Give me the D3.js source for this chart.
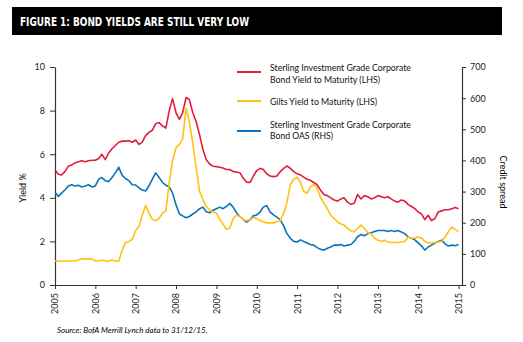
<!DOCTYPE html>
<html>
<head>
<meta charset="utf-8">
<script src="https://cdn.jsdelivr.net/npm/d3@7"></script>
<style>
  body { margin: 0; background: #fff; }
  svg { display: block; }
  .axis path, .axis line { stroke: #333; }
  .axis text { font-family: Lato, "Open Sans", sans-serif; font-size: 9px; fill: #222; }
</style>
</head>
<body>
<div id="chart"></div>
<script>
// monthly, Jan 2005 .. Jan 2015
const corpYield = [
  5.28, 5.08, 5.05, 5.2, 5.45, 5.5, 5.6, 5.65, 5.7, 5.65, 5.7, 5.72,
  5.72, 5.8, 6.0, 5.75, 6.05, 6.25, 6.4, 6.55, 6.6, 6.6, 6.62, 6.55,
  6.65, 6.45, 6.55, 6.85, 7.0, 7.1, 7.4, 7.45, 7.3, 7.2, 8.0, 8.55,
  7.9, 7.6, 7.9, 8.6, 8.5, 7.9, 7.5, 6.9, 6.2, 5.75, 5.55, 5.45,
  5.43, 5.4, 5.37, 5.3, 5.3, 5.2, 5.18, 5.15, 4.9, 4.72, 4.7, 5.0,
  5.25, 5.35, 5.3, 5.1, 5.0, 4.97, 5.0, 5.2, 5.35, 5.46, 5.35, 5.2,
  5.1, 5.05, 4.95, 4.85, 4.8, 4.7, 4.6, 4.35, 4.15, 4.1, 4.0, 3.9,
  3.85, 3.95, 4.0, 3.8, 3.7, 3.75, 4.15, 3.95, 4.1, 4.05, 3.95, 4.0,
  4.1, 4.05, 4.0, 4.05, 3.95, 3.85, 3.8, 3.9, 3.85, 3.7, 3.6, 3.5,
  3.35, 3.25, 3.0, 3.2, 2.95, 3.05, 3.35, 3.4, 3.45, 3.45, 3.5, 3.55,
  3.5
];
const giltYield = [
  1.1, 1.1, 1.1, 1.1, 1.1, 1.1, 1.1, 1.15, 1.2, 1.2, 1.2, 1.2,
  1.1, 1.1, 1.15, 1.1, 1.1, 1.15, 1.1, 1.1, 1.6, 1.95, 2.0, 2.1,
  2.5, 2.7, 3.2, 3.65, 3.3, 3.0, 2.95, 3.05, 3.3, 3.4, 4.7, 5.7,
  6.3, 6.45, 6.7, 8.1, 7.5, 6.5, 5.4, 4.3, 3.9, 3.6, 3.45, 3.35,
  3.3, 3.0, 2.8, 2.55, 2.6, 3.05, 3.2, 3.15, 3.0, 2.95, 3.0, 3.1,
  3.05, 2.95, 2.9, 2.85, 2.85, 2.85, 2.9, 2.95, 3.3, 3.8, 4.6, 4.85,
  4.95, 4.7, 4.3, 4.2, 4.5, 4.6, 4.45, 4.0, 3.75, 3.5, 3.2, 3.05,
  2.9, 2.8, 2.75, 2.6, 2.5, 2.43, 2.6, 2.75, 2.6, 2.4, 2.35, 2.15,
  2.05, 2.0, 2.05, 1.97, 1.95, 1.95, 1.95, 1.97, 2.0, 2.2, 2.15, 2.15,
  2.2, 2.15, 2.0, 1.93, 1.93, 1.95, 1.97, 2.0, 2.2, 2.45, 2.66, 2.55,
  2.45
];
const corpOAS = [
  298, 284, 295, 305, 318, 322, 318, 320, 315, 318, 322, 315,
  318, 340, 345, 335, 332, 345, 360, 378, 352, 342, 335, 322,
  321, 312, 305, 302, 318, 340, 360, 345, 330, 320, 315, 295,
  258, 228, 222, 216, 220, 228, 235, 245, 250, 235, 232, 240,
  245, 250, 245, 252, 262, 250, 232, 220, 210, 202, 210, 222,
  225, 235, 250, 255, 235, 225, 218, 210, 190, 165, 150, 140,
  138, 145, 140, 135, 130, 128, 120, 115, 112, 118, 122, 128,
  128, 130, 125, 128, 130, 140, 155, 162, 158, 165, 168, 172,
  175, 175, 175, 172, 175, 172, 175, 170, 165, 154, 150, 145,
  135, 125, 112, 122, 128, 135, 140, 144, 132, 125, 128, 126,
  130
];
const months = d3.utcMonth.range(new Date(Date.UTC(2005, 0, 1)), new Date(Date.UTC(2015, 1, 1)));
const yieldTicks = [0, 2, 4, 6, 8, 10];
const spreadTicks = [0, 100, 200, 300, 400, 500, 600, 700];

const seriesNames = [
  ['Sterling Investment Grade Corporate', 'Bond Yield to Maturity (LHS)'],
  ['Gilts Yield to Maturity (LHS)'],
  ['Sterling Investment Grade Corporate', 'Bond OAS (RHS)']
];
const colors = ['#e31c3d', '#ffc20e', '#0a74bb'];

const width = 523, height = 342;
const margin = { top: 67, right: 62, bottom: 57, left: 55 };

const svg = d3.select('#chart').append('svg').attr('width', width).attr('height', height);

// title bar
svg.append('rect').attr('x', 12).attr('y', 7).attr('width', 490).attr('height', 28).attr('fill', '#000');
svg.append('text')
  .attr('x', 20).attr('y', 26)
  .attr('fill', '#fff')
  .attr('font-family', '"Liberation Sans Narrow", "DejaVu Sans Condensed", "Roboto", sans-serif')
  .attr('font-weight', 'bold')
  .attr('font-size', 13)
  .attr('textLength', 229).attr('lengthAdjust', 'spacingAndGlyphs')
  .text('FIGURE 1: BOND YIELDS ARE STILL VERY LOW');

const x = d3.scaleUtc()
  .domain([new Date(Date.UTC(2005, 0, 1)), new Date(Date.UTC(2015, 1, 1))])
  .range([margin.left, width - margin.right + 1]);
const yL = d3.scaleLinear().domain([0, 10]).range([height - margin.bottom, margin.top]);
const yR = d3.scaleLinear().domain([0, 700]).range([height - margin.bottom, margin.top]);

const xAxis = d3.axisBottom(x).ticks(d3.utcYear.every(1)).tickFormat(d3.utcFormat('%Y')).tickSize(4).tickSizeOuter(0);
svg.append('g').attr('class', 'axis')
  .attr('transform', `translate(0,${height - margin.bottom})`)
  .call(xAxis)
  .selectAll('text')
  .attr('transform', 'rotate(-90)')
  .attr('text-anchor', 'end')
  .attr('x', -8).attr('y', 0).attr('dy', '0.32em');

svg.append('g').attr('class', 'axis')
  .attr('transform', `translate(${margin.left},0)`)
  .call(d3.axisLeft(yL).tickValues(yieldTicks).tickSize(5).tickSizeOuter(0).tickPadding(5));

svg.append('g').attr('class', 'axis')
  .attr('transform', `translate(${width - margin.right + 1},0)`)
  .call(d3.axisRight(yR).tickValues(spreadTicks).tickSize(4).tickSizeOuter(0).tickPadding(4));

svg.selectAll('.axis .domain').attr('stroke-width', 1.2);

// axis titles
svg.append('text')
  .attr('transform', 'translate(26,188) rotate(-90)')
  .attr('text-anchor', 'middle')
  .attr('font-family', 'Lato, sans-serif').attr('font-size', 9)
  .text('Yield %');
svg.append('text')
  .attr('transform', 'translate(500,182) rotate(90)')
  .attr('text-anchor', 'middle')
  .attr('font-family', 'Lato, sans-serif').attr('font-size', 9)
  .text('Credit spread');

// lines
const lineL = d3.line().x((d, i) => x(months[i])).y((d) => yL(d));
const lineR = d3.line().x((d, i) => x(months[i])).y((d) => yR(d));

const plot = svg.append('g').attr('fill', 'none').attr('stroke-width', 1.6).attr('stroke-linejoin', 'round');
plot.append('path').attr('d', lineR(corpOAS)).attr('stroke', colors[2]);
plot.append('path').attr('d', lineL(giltYield)).attr('stroke', colors[1]);
plot.append('path').attr('d', lineL(corpYield)).attr('stroke', colors[0]);

// legend (text widths squeezed to the narrow face of the original)
const legendRows = [
  { lineY: 72, textY: [71, 82.5], widths: [141, 110] },
  { lineY: 101, textY: [104.5], widths: [107] },
  { lineY: 131, textY: [127.5, 139], widths: [141, 63] }
];
const legend = svg.append('g');
legendRows.forEach((row, i) => {
  legend.append('line')
    .attr('x1', 237).attr('x2', 261)
    .attr('y1', row.lineY).attr('y2', row.lineY)
    .attr('stroke', colors[i]).attr('stroke-width', 2);
  seriesNames[i].forEach((t, j) => {
    legend.append('text')
      .attr('x', 270).attr('y', row.textY[j])
      .attr('font-family', 'Lato, sans-serif')
      .attr('font-size', 9.5).attr('fill', '#111')
      .attr('textLength', row.widths[j]).attr('lengthAdjust', 'spacingAndGlyphs')
      .text(t);
  });
});

// source note
svg.append('text')
  .attr('x', 57).attr('y', 333)
  .attr('font-family', 'Lato, sans-serif').attr('font-style', 'italic').attr('font-size', 8)
  .text('Source: BofA Merrill Lynch data to 31/12/15.');
</script>
</body>
</html>
